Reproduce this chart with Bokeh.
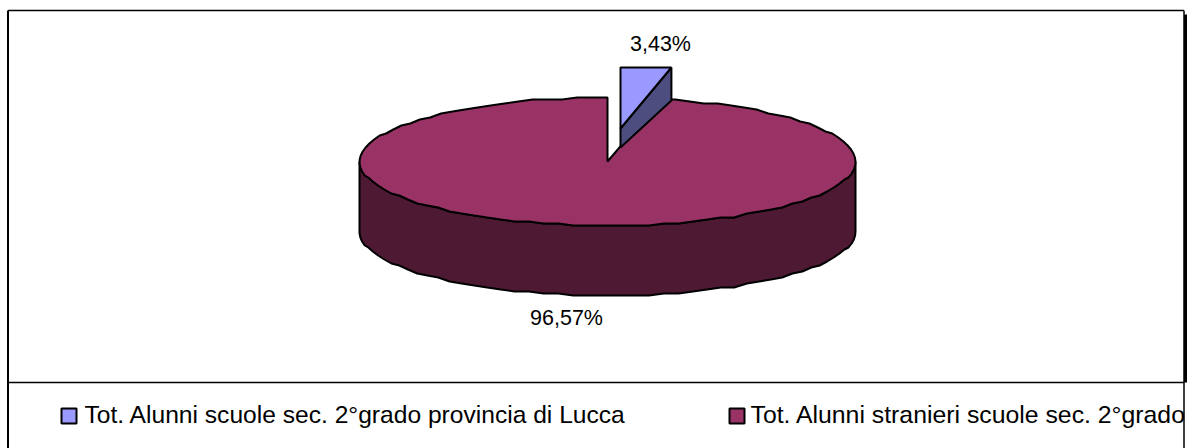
import math
from bokeh.plotting import figure
from bokeh.models import Range1d
from bokeh.embed import file_html
from bokeh.resources import INLINE
from bokeh.core.properties import value

# data
categories = ["Tot. Alunni scuole sec. 2°grado provincia di Lucca",
              "Tot. Alunni stranieri scuole sec. 2°grado"]
values = [3.43, 96.57]
labels = ["3,43%", "96,57%"]
top_colors = ["#9999FF", "#993366"]
side_colors = ["#4D4D80", "#4D1933"]

W, H = 1187, 448
FONT = value("Liberation Sans")
p = figure(width=W, height=H, output_backend="svg", toolbar_location=None,
           x_range=Range1d(0, W), y_range=Range1d(H, 0),
           min_border=0, outline_line_color=None)
p.xaxis.visible = False
p.yaxis.visible = False
p.grid.visible = False
p.background_fill_color = "white"

cx, cy, rx, ry, depth = 607, 161, 248, 64, 70
ang = 2 * math.pi * values[0] / sum(values)
STEP = math.radians(3.5)
GRID = 2.0  # the reference's outline is slightly stepped


def pt(t):
    return cx + rx * math.sin(t), cy + round(-ry * math.cos(t) / GRID) * GRID


n = int((2 * math.pi - ang) / STEP)
arc = [ang + i * (2 * math.pi - ang) / n for i in range(n + 1)]
top_x = [cx] + [pt(t)[0] for t in arc]
top_y = [cy] + [pt(t)[1] for t in arc]

front = [t for t in arc if math.pi / 2 <= t <= 3 * math.pi / 2]
fx = [cx + rx] + [pt(t)[0] for t in front] + [cx - rx]
fy = [cy] + [pt(t)[1] for t in front] + [cy]
side_x = fx + fx[::-1]
side_y = fy + [y + depth for y in fy[::-1]]
p.patch(side_x, side_y, fill_color=side_colors[1], line_color="black", line_width=2)
p.patch(top_x, top_y, fill_color=top_colors[1], line_color="black", line_width=2)

dx, dy = 13, -33
tx, ty = cx + dx, cy + dy
sl = 61
ex = tx + rx * math.sin(ang) * 0.96
p.patch([tx, ex, ex, tx], [ty, ty - sl, ty - sl + 33, ty + 19],
        fill_color=side_colors[0], line_color="black", line_width=2)
p.patch([tx, tx, ex], [ty, ty - sl, ty - sl],
        fill_color=top_colors[0], line_color="black", line_width=2)

p.text([660], [43], text=[labels[0]], text_font=FONT, text_font_size="21.5px",
       text_align="center", text_baseline="middle", text_color="black")
p.text([566], [317], text=[labels[1]], text_font=FONT, text_font_size="21.5px",
       text_align="center", text_baseline="middle", text_color="black")

p.line([7.5, 7.5], [10, 448], line_color="black", line_width=2)
p.line([7.5, 1183.5], [10, 10], line_color="black", line_width=1.5)
p.line([1183.5, 1183.5], [10, 448], line_color="black", line_width=1.5)
p.line([7.5, 1183.5], [382, 382], line_color="black", line_width=1.5)
p.line([1185.5, 1185.5], [14, 382], line_color="black", line_width=4)

p.square([68.5], [415.5], size=15, fill_color=top_colors[0], line_color="black", line_width=2)
p.square([736.5], [415.5], size=15, fill_color=top_colors[1], line_color="black", line_width=2)
p.text([84], [414], text=[categories[0]], text_font=FONT, text_font_size="24.6px",
       text_baseline="middle", text_color="black")
p.text([750], [414], text=[categories[1]], text_font=FONT, text_font_size="24.8px",
       text_baseline="middle", text_color="black")

open("out.html", "w").write(file_html(p, INLINE))
